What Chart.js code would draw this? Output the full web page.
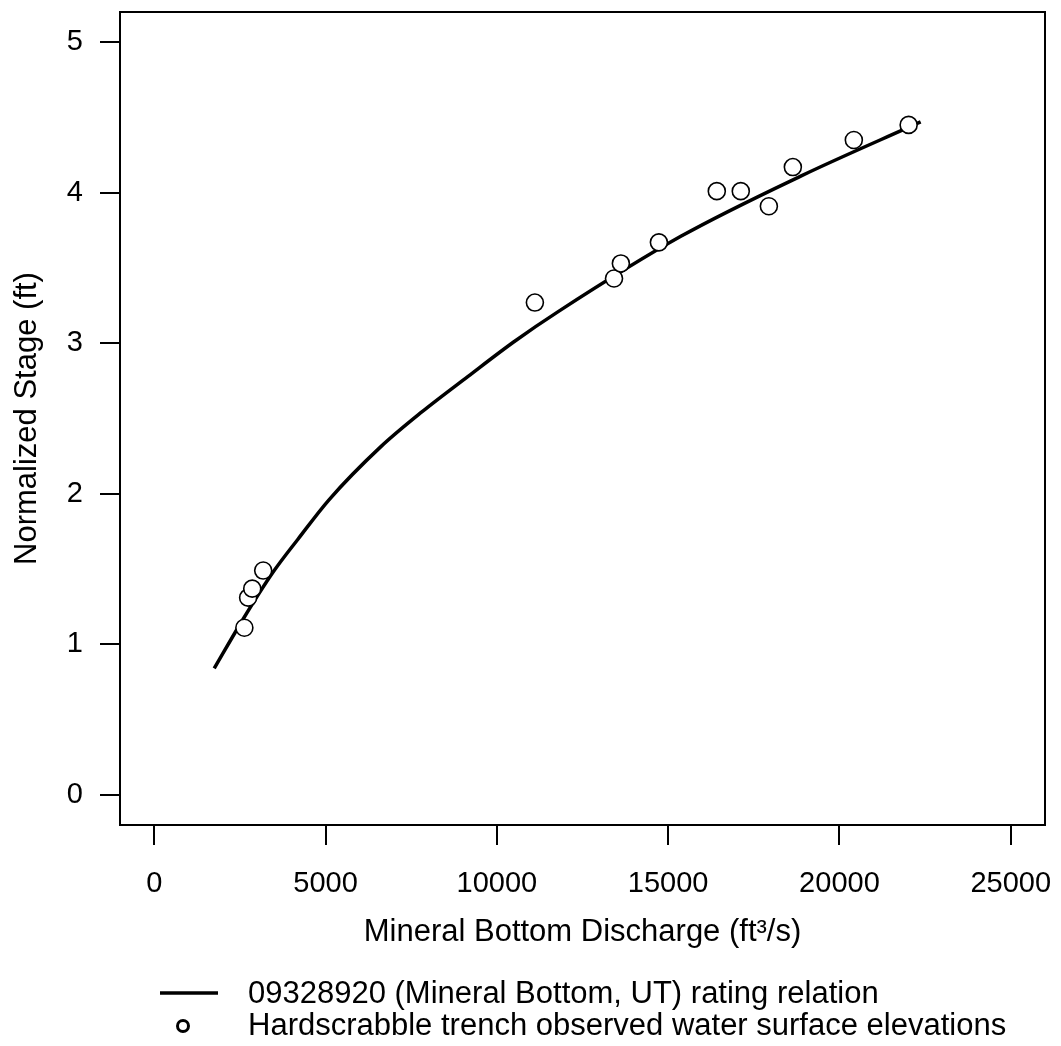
<!DOCTYPE html>
<html>
<head>
<meta charset="utf-8">
<script src="https://cdn.jsdelivr.net/npm/chart.js@4.4.0/dist/chart.umd.min.js"></script>
<style>
  html, body { margin: 0; padding: 0; background: #fff; }
  #wrap { width: 1061px; height: 1046px; }
</style>
</head>
<body>
<div id="wrap"><canvas id="ratingChart" width="1061" height="1046"></canvas></div>
<script>
// rating relation
const ratingQ = [1750, 2600, 3470, 4200, 5100, 6600, 7790, 9160, 10500, 11790, 15370, 18870, 22370];
const ratingStage = [0.84, 1.17, 1.48, 1.70, 1.96, 2.31, 2.54, 2.78, 3.01, 3.21, 3.71, 4.11, 4.47];

// observed water surface elevations
const obsQ = [2630, 2740, 2860, 3180, 11110, 13420, 13620, 14730, 16420, 17120, 17940, 18640, 20420, 22020];
const obsStage = [1.11, 1.31, 1.37, 1.49, 3.27, 3.43, 3.53, 3.67, 4.01, 4.01, 3.91, 4.17, 4.35, 4.45];

const xTicks = [0, 5000, 10000, 15000, 20000, 25000];
const yTicks = [0, 1, 2, 3, 4, 5];

const lineLabel = '09328920 (Mineral Bottom, UT) rating relation';
const pointLabel = 'Hardscrabble trench observed water surface elevations';

const fontFamily = '"Liberation Sans", Arial, sans-serif';
Chart.defaults.font.family = fontFamily;
Chart.defaults.color = '#000';

function toXY(xs, ys) {
  return xs.map(function(x, i) { return {x: x, y: ys[i]}; });
}

// box round the plot and a hand made legend below it
const boxAndLegend = {
  id: 'boxAndLegend',
  afterDraw: function(chart) {
    const ctx = chart.ctx;
    const a = chart.chartArea;
    ctx.save();
    ctx.strokeStyle = '#000';
    ctx.lineWidth = 2;
    ctx.strokeRect(a.left, a.top, a.right - a.left, a.bottom - a.top);

    ctx.font = '31px ' + fontFamily;
    ctx.fillStyle = '#000';
    ctx.textBaseline = 'middle';
    ctx.textAlign = 'left';

    ctx.lineWidth = 3.5;
    ctx.beginPath();
    ctx.moveTo(160, 993);
    ctx.lineTo(218, 993);
    ctx.stroke();
    ctx.fillText(lineLabel, 248, 994);

    ctx.lineWidth = 3;
    ctx.beginPath();
    ctx.arc(183, 1026, 5.5, 0, Math.PI * 2);
    ctx.stroke();
    ctx.fillText(pointLabel, 248, 1026);
    ctx.restore();
  }
};

var ctx = document.getElementById('ratingChart').getContext('2d');
var chart = new Chart(ctx, {
  type: 'scatter',
  data: {
    datasets: [{
      label: pointLabel,
      data: toXY(obsQ, obsStage),
      order: 0,
      pointRadius: 8.5,
      pointBorderWidth: 1.6,
      pointBorderColor: '#000',
      pointBackgroundColor: '#fff',
      showLine: false
    }, {
      label: lineLabel,
      data: toXY(ratingQ, ratingStage),
      order: 1,
      showLine: true,
      borderColor: '#000',
      borderWidth: 3.5,
      cubicInterpolationMode: 'monotone',
      pointRadius: 0
    }]
  },
  plugins: [boxAndLegend],
  options: {
    responsive: false,
    animation: false,
    layout: { padding: { top: 12, right: 16, bottom: 0, left: 0 } },
    plugins: {
      legend: { display: false },
      tooltip: { enabled: false }
    },
    scales: {
      x: {
        type: 'linear',
        min: -1000,
        max: 26000,
        afterBuildTicks: function(scale) {
          scale.ticks = xTicks.map(function(v) { return {value: v}; });
        },
        afterFit: function(scale) {
          scale.height = 221;
          scale.paddingLeft = 0;
          scale.paddingRight = 0;
        },
        grid: { drawOnChartArea: false, drawTicks: true, tickLength: 20, color: '#000', lineWidth: 2 },
        border: { display: false },
        ticks: {
          autoSkip: false, maxRotation: 0, padding: 22,
          font: { size: 29 },
          callback: function(v) { return String(v); }
        },
        title: {
          display: true,
          text: 'Mineral Bottom Discharge (ft³/s)',
          font: { size: 31 },
          padding: { top: 0, bottom: 95 }
        }
      },
      y: {
        type: 'linear',
        min: -0.2,
        max: 5.2,
        afterBuildTicks: function(scale) {
          scale.ticks = yTicks.map(function(v) { return {value: v}; });
        },
        afterFit: function(scale) {
          scale.width = 120;
          scale.paddingTop = 0;
          scale.paddingBottom = 0;
        },
        grid: { drawOnChartArea: false, drawTicks: true, tickLength: 20, color: '#000', lineWidth: 2 },
        border: { display: false },
        ticks: {
          autoSkip: false, padding: 17,
          font: { size: 29 },
          callback: function(v) { return String(v); }
        },
        title: {
          display: true,
          text: 'Normalized Stage (ft)',
          font: { size: 31 },
          padding: { top: 9, bottom: 0 }
        }
      }
    }
  }
});
</script>
</body>
</html>
